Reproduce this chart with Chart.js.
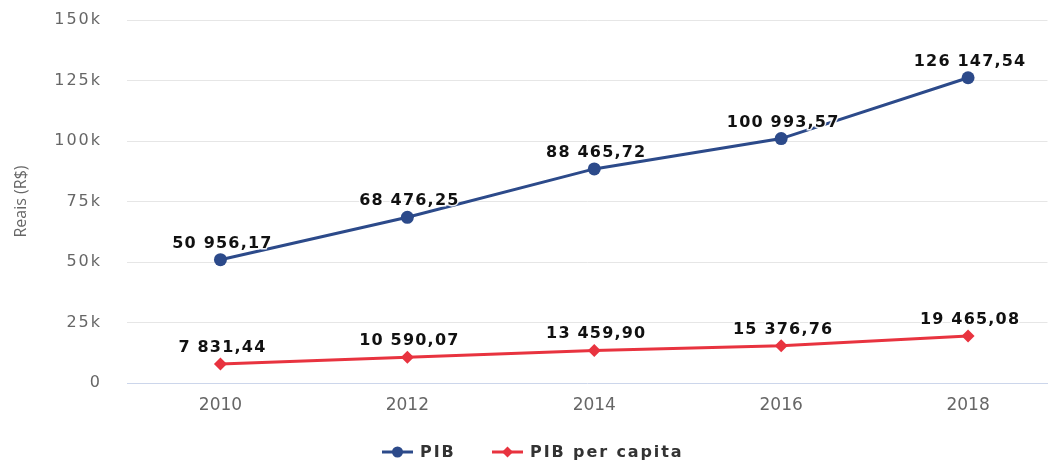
<!DOCTYPE html>
<html>
<head>
<meta charset="utf-8">
<script src="https://cdn.jsdelivr.net/npm/chart.js@4.4.1/dist/chart.umd.min.js"></script>
<style>
html,body{margin:0;padding:0;background:#fff;}
#wrap{width:1054px;height:461px;position:relative;}
canvas{display:block;}
</style>
</head>
<body>
<div id="wrap"><canvas id="c" width="1054" height="461"></canvas></div>
<script>
const years = [2010, 2012, 2014, 2016, 2018];
const pib = [50956.17, 68476.25, 88465.72, 100993.57, 126147.54];
const pibPerCapita = [7831.44, 10590.07, 13459.90, 15376.76, 19465.08];
const yTickValues = [0, 25000, 50000, 75000, 100000, 125000, 150000];
const yTickLabels = ['0', '25k', '50k', '75k', '100k', '125k', '150k'];
const seriesNames = ['PIB', 'PIB per capita'];

const BLUE = '#2c4a8a';
const RED = '#e8333f';

function fmt(v) {
  const parts = v.toFixed(2).split('.');
  const intPart = parts[0].replace(/\B(?=(\d{3})+(?!\d))/g, ' ');
  return intPart + ',' + parts[1];
}

const labelPlugin = {
  id: 'valueLabels',
  afterDatasetsDraw(chart) {
    const ctx = chart.ctx;
    ctx.save();
    ctx.font = 'bold 16px "DejaVu Sans"';
    ctx.letterSpacing = '1.2px';
    ctx.fillStyle = '#111';
    ctx.textAlign = 'center';
    ctx.textBaseline = 'alphabetic';
    chart.data.datasets.forEach((ds, i) => {
      const meta = chart.getDatasetMeta(i);
      meta.data.forEach((pt, j) => {
        const txt = fmt(ds.data[j].y);
        ctx.lineWidth = 3;
        ctx.strokeStyle = 'rgba(255,255,255,0.9)';
        ctx.strokeText(txt, pt.x + 2, pt.y - 12);
        ctx.fillText(txt, pt.x + 2, pt.y - 12);
      });
    });
    ctx.restore();
  }
};

const legendPlugin = {
  id: 'customLegend',
  afterDraw(chart) {
    const ctx = chart.ctx;
    ctx.save();
    ctx.font = 'bold 16px "DejaVu Sans"';
    ctx.letterSpacing = '1.9px';
    ctx.textBaseline = 'middle';
    ctx.textAlign = 'left';
    const y = 452;
    const items = [
      {x: 382, color: BLUE, style: 'circle', text: seriesNames[0]},
      {x: 492, color: RED, style: 'rectRot', text: seriesNames[1]}
    ];
    items.forEach(it => {
      ctx.strokeStyle = it.color;
      ctx.lineWidth = 3;
      ctx.beginPath();
      ctx.moveTo(it.x, y);
      ctx.lineTo(it.x + 31, y);
      ctx.stroke();
      ctx.fillStyle = it.color;
      Chart.helpers.drawPoint(ctx, {pointStyle: it.style, radius: 5.5, borderWidth: 0}, it.x + 15.5, y);
      ctx.fillStyle = '#333';
      ctx.fillText(it.text, it.x + 38, y + 1);
    });
    ctx.restore();
  }
};

const spacingPlugin = {
  id: 'tickSpacing',
  beforeDraw(chart) {
    const ys = chart.scales.y;
    if (!ys._patched) {
      const orig = ys.drawLabels;
      ys.drawLabels = function (ca) {
        const ctx = this.ctx;
        ctx.save();
        ctx.letterSpacing = '2px';
        orig.call(this, ca);
        ctx.restore();
      };
      ys._patched = true;
    }
  }
};

new Chart(document.getElementById('c'), {
  type: 'line',
  data: {
    datasets: [
      {
        label: seriesNames[0],
        data: years.map((y, i) => ({x: y, y: pib[i]})),
        borderColor: BLUE,
        backgroundColor: BLUE,
        borderWidth: 3,
        pointRadius: 6.5,
        pointHoverRadius: 6.5,
        pointStyle: 'circle',
        pointBorderWidth: 0,
        tension: 0
      },
      {
        label: seriesNames[1],
        data: years.map((y, i) => ({x: y, y: pibPerCapita[i]})),
        borderColor: RED,
        backgroundColor: RED,
        borderWidth: 3,
        pointRadius: 6.5,
        pointHoverRadius: 6.5,
        pointStyle: 'rectRot',
        pointBorderWidth: 0,
        tension: 0
      }
    ]
  },
  options: {
    responsive: false,
    animation: false,
    devicePixelRatio: 1,
    layout: {padding: {top: 20, right: 0, bottom: 48, left: 0}},
    plugins: {
      legend: {display: false},
      tooltip: {enabled: false}
    },
    scales: {
      x: {
        type: 'linear',
        bounds: 'data',
        min: 2009,
        max: 2018.85,
        afterBuildTicks(scale) {
          scale.ticks = years.map(v => ({value: v}));
        },
        afterFit(scale) {
          scale.height = 30;
          scale.paddingLeft = 0;
          scale.paddingRight = 0;
        },
        grid: {display: false, drawTicks: false},
        border: {display: true, color: '#ccd6eb', width: 1},
        ticks: {
          color: '#666',
          font: {family: '"DejaVu Sans"', size: 17},
          padding: 12,
          maxRotation: 0,
          autoSkip: false,
          callback: (v) => String(v)
        }
      },
      y: {
        type: 'linear',
        min: 0,
        max: 150000,
        afterBuildTicks(scale) {
          scale.ticks = yTickValues.map(v => ({value: v}));
        },
        afterFit(scale) {
          scale.width = 127;
          scale.paddingTop = 0;
          scale.paddingBottom = 0;
        },
        grid: {
          color: (c) => c.tick && c.tick.value === 0 ? 'rgba(0,0,0,0)' : '#e6e6e6',
          lineWidth: 1,
          drawTicks: false
        },
        border: {display: false},
        ticks: {
          color: '#666',
          font: {family: '"DejaVu Sans"', size: 16},
          padding: 25,
          callback: (v) => yTickLabels[yTickValues.indexOf(v)]
        },
        title: {
          display: true,
          text: 'Reais (R$)',
          color: '#666',
          font: {family: '"Open Sans"', size: 16},
          padding: {top: 12, bottom: 0}
        }
      }
    }
  },
  plugins: [labelPlugin, legendPlugin, spacingPlugin]
});
</script>
</body>
</html>
